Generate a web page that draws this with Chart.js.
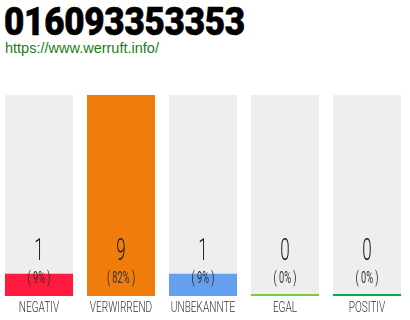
<!DOCTYPE html>
<html>
<head>
<meta charset="utf-8">
<script src="https://cdn.jsdelivr.net/npm/chart.js@4"></script>
<style>
  html, body { margin: 0; padding: 0; background: #fff; width: 410px; height: 320px; overflow: hidden; }
  #title {
    position: absolute; left: 4px; top: 0px;
    font-family: Roboto, "Liberation Sans", sans-serif; font-weight: 900; font-size: 39px;
    color: #000; transform: scaleX(0.9); transform-origin: left top; line-height: 44px; letter-spacing: -0.3px;
    -webkit-text-stroke: 0.6px #000;
  }
  #url {
    position: absolute; left: 5px; top: 40px;
    font-family: "Liberation Sans", Arial, sans-serif; font-size: 14.5px; color: #1b7c1b;
  }
  #wrap { position: absolute; left: -2px; top: 0; width: 410px; height: 320px; }
</style>
</head>
<body>
<div id="title">016093353353</div>
<div id="url">https://www.werruft.info/</div>
<div id="wrap"><canvas id="voteChart"></canvas></div>
<script>
// Bewertungen pro Kategorie
const categories = ['NEGATIV', 'VERWIRREND', 'UNBEKANNTE', 'EGAL', 'POSITIV'];
const counts = [1, 9, 1, 0, 0];
const percents = [9, 82, 9, 0, 0];
const barColors = ['#ff1a3e', '#f07c0c', '#659ff0', '#7acb4a', '#00b23f'];

// grauer Hintergrund reicht bis zum größten Wert
const maxCount = Math.max(...counts);
const trackValues = categories.map(() => maxCount);

// Zahlen, Prozente und Kategorien unter/auf den Balken
const labelPlugin = {
    id: 'barLabels',
    afterDatasetsDraw(chart) {
        const ctx = chart.ctx;
        const xScale = chart.scales.x;
        const bottom = chart.chartArea.bottom;
        ctx.save();
        ctx.textAlign = 'center';
        ctx.textBaseline = 'middle';
        categories.forEach((cat, i) => {
            const x = xScale.getPixelForValue(i);
            drawCondensed(ctx, String(counts[i]), x, bottom - 44, '300 31px Roboto', 0.55, '#222');
            drawCondensed(ctx, '( ' + percents[i] + '% )', x, bottom - 17, '400 16px Roboto', 0.58, '#333');
            drawCondensed(ctx, cat, x, bottom + 12, '300 14px Roboto', 0.72, '#333');
        });
        ctx.restore();
    }
};

function drawCondensed(ctx, text, x, y, font, sx, color) {
    ctx.save();
    ctx.font = font;
    ctx.fillStyle = color;
    ctx.translate(x, y);
    ctx.scale(sx, 1);
    ctx.fillText(text, 0, 0);
    ctx.restore();
}

const ctx = document.getElementById('voteChart').getContext('2d');
new Chart(ctx, {
    type: 'bar',
    data: {
        labels: categories,
        datasets: [
            {
                data: counts,
                backgroundColor: barColors,
                borderWidth: 0,
                minBarLength: 2,
                order: 1
            },
            {
                data: trackValues,
                backgroundColor: '#eeeeee',
                borderWidth: 0,
                order: 2
            }
        ]
    },
    options: {
        responsive: true,
        maintainAspectRatio: false,
        animation: false,
        layout: { padding: { top: 95, bottom: 24, left: 0, right: 0 } },
        datasets: { bar: { grouped: false, barPercentage: 0.83, categoryPercentage: 1 } },
        scales: {
            x: { display: false },
            y: { display: false, min: 0, max: maxCount }
        },
        plugins: { legend: { display: false }, tooltip: { enabled: false } }
    },
    plugins: [labelPlugin]
});
</script>
</body>
</html>
